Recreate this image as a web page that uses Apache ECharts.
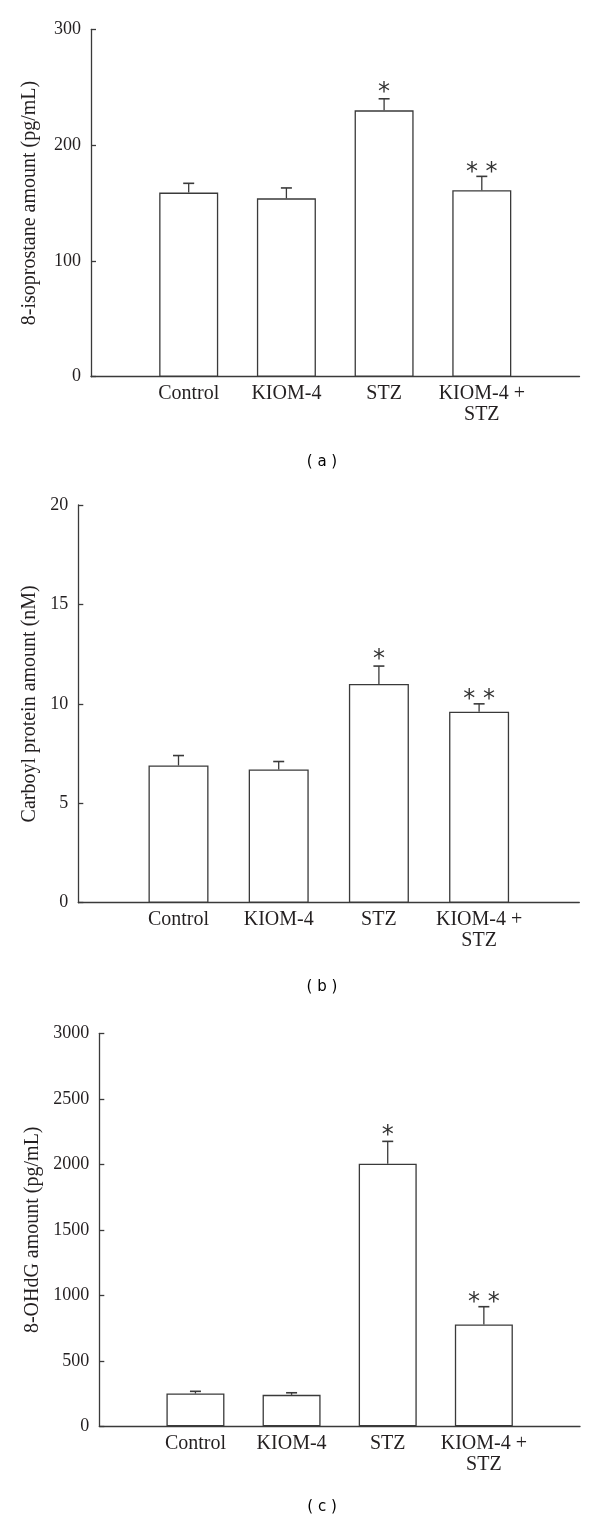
<!DOCTYPE html>
<html>
<head>
<meta charset="utf-8">
<script src="https://cdn.jsdelivr.net/npm/echarts@6/dist/echarts.min.js"></script>
<style>
html,body{margin:0;padding:0;background:#fff;}
#chart{width:600px;height:1523px;}
</style>
</head>
<body>
<div id="chart"></div>
<script>
// ---- data ----
var categories = ['Control', 'KIOM-4', 'STZ', 'KIOM-4 +\nSTZ'];
var sigMarks = ['', '', '*', '* *'];

var isoMean = [159, 154, 230, 161];
var isoErr  = [8, 9, 10, 12];

var carbMean = [6.9, 6.7, 11.0, 9.6];
var carbErr  = [0.5, 0.4, 0.9, 0.4];

var ohdgMean = [250, 240, 2005, 778];
var ohdgErr  = [17, 16, 170, 135];

var yNames = ['8-isoprostane amount (pg/mL)', 'Carboyl protein amount (nM)', '8-OHdG amount (pg/mL)'];
var yMax = [300, 20, 3000];
var yStep = [100, 5, 500];
var panelTags = ['( a )', '( b )', '( c )'];

// ---- layout ----
var LINE = '#3a3a3a';
var TXT = '#231f20';
var SERIF = '"Liberation Serif","Times New Roman",serif';
var grids = [
  {left: 91, top: 29.3, width: 488.5, height: 347.4},
  {left: 78.3, top: 505, width: 501, height: 397.7},
  {left: 99.3, top: 1033.3, width: 480.7, height: 393}
];
var barWidths = [59, 60, 58];
var nameGaps = [51, 35, 57];
var tagY = [461.7, 987, 1507];

var axisCats = [''].concat(categories).concat(['']);

var option = {
  animation: false,
  backgroundColor: '#fff',
  grid: grids.map(function (g) { return Object.assign({containLabel: false}, g); }),
  xAxis: grids.map(function (g, i) {
    return {
      type: 'category', gridIndex: i, data: axisCats, boundaryGap: false,
      axisLine: {lineStyle: {color: LINE, width: 1.3}},
      axisTick: {show: false},
      axisLabel: {interval: 0, color: TXT, fontFamily: SERIF, fontSize: 20, lineHeight: 21, margin: 7},
      splitLine: {show: false}
    };
  }),
  yAxis: grids.map(function (g, i) {
    return {
      type: 'value', gridIndex: i, min: 0, max: yMax[i], interval: yStep[i],
      name: yNames[i], nameLocation: 'middle', nameGap: nameGaps[i],
      nameTextStyle: {color: TXT, fontFamily: SERIF, fontSize: 20},
      axisLine: {show: true, lineStyle: {color: LINE, width: 1.3}},
      axisTick: {show: true, inside: true, length: 5, lineStyle: {color: LINE, width: 1.3}},
      axisLabel: {color: TXT, fontFamily: SERIF, fontSize: 18, margin: 10,
                  formatter: function (v) { return String(v); }},
      splitLine: {show: false}
    };
  }),
  graphic: panelTags.map(function (t, i) {
    return {
      type: 'text', x: 322, y: tagY[i],
      style: {text: t, textAlign: 'center', textVerticalAlign: 'middle',
              fontFamily: '"DejaVu Sans", sans-serif', fontSize: 15, fill: '#000'}
    };
  }),
  series: []
};

var means = [isoMean, carbMean, ohdgMean];
var errs = [isoErr, carbErr, ohdgErr];

means.forEach(function (m, i) {
  var barData = [null].concat(m).concat([null]);
  option.series.push({
    type: 'bar', xAxisIndex: i, yAxisIndex: i, data: barData,
    barWidth: barWidths[i],
    itemStyle: {color: '#fff', borderColor: LINE, borderWidth: 1.3},
    silent: true, z: 2
  });
  var errData = m.map(function (v, k) { return [k + 1, v, v + errs[i][k], k]; });
  option.series.push({
    type: 'custom', xAxisIndex: i, yAxisIndex: i, data: errData, z: 3, silent: true,
    renderItem: function (params, api) {
      var x = api.value(0);
      var lo = api.coord([x, api.value(1)]);
      var hi = api.coord([x, api.value(2)]);
      var k = api.value(3);
      var s = sigMarks[k];
      var children = [
        {type: 'line', shape: {x1: lo[0], y1: lo[1], x2: hi[0], y2: hi[1]},
         style: {stroke: LINE, lineWidth: 1.3}},
        {type: 'line', shape: {x1: hi[0] - 5.5, y1: hi[1], x2: hi[0] + 5.5, y2: hi[1]},
         style: {stroke: LINE, lineWidth: 1.6}}
      ];
      if (s) {
        children.push({
          type: 'text', x: hi[0], y: hi[1] - (s.length > 1 ? 4 : 6),
          style: {text: s, textAlign: 'center', textVerticalAlign: 'middle',
                  fontFamily: '"DejaVu Sans", sans-serif', fontSize: 24, fill: '#333'}
        });
      }
      return {type: 'group', children: children};
    }
  });
});

var chart = echarts.init(document.getElementById('chart'), null, {renderer: 'canvas'});
chart.setOption(option);
</script>
</body>
</html>
